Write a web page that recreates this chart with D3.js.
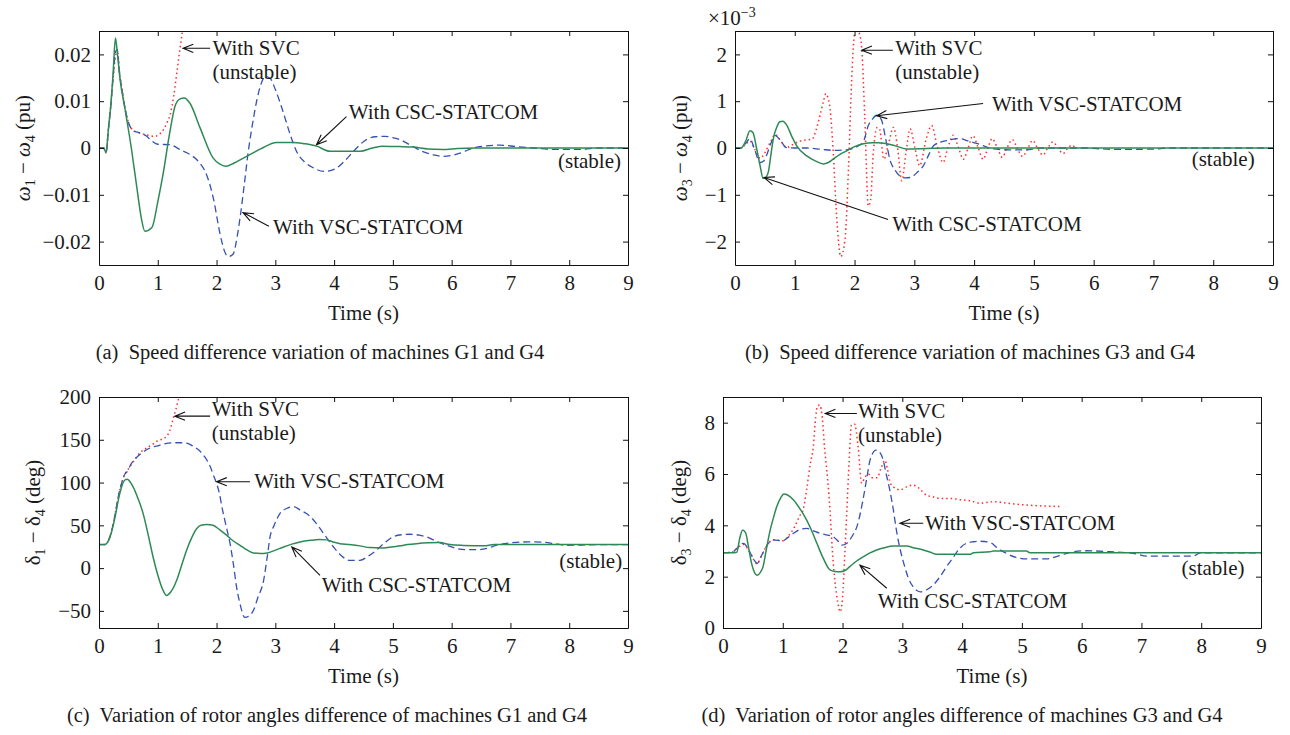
<!DOCTYPE html>
<html>
<head>
<meta charset="utf-8">
<script src="https://cdn.jsdelivr.net/npm/d3@7"></script>
<style>
body { margin: 0; background: #fff; }
text { font-family: "Liberation Serif", "Times New Roman", serif; fill: #1a1a1a; }
</style>
</head>
<body>
<svg id="fig" width="1290" height="735"></svg>
<script>
// tick values
var timeTicks = [0, 1, 2, 3, 4, 5, 6, 7, 8, 9];
var aTicks = [-0.02, -0.01, 0, 0.01, 0.02];
var bTicks = [-2, -1, 0, 1, 2];
var cTicks = [-50, 0, 50, 100, 150, 200];
var dTicks = [0, 2, 4, 6, 8];

// (a) w1 - w4 (pu), [time, value]
var aCSC = [[0,0],[0.08,0],[0.12,-0.001],[0.16,0.004],[0.2,0.009],[0.24,0.016],[0.28,0.0235],[0.31,0.0205],[0.36,0.0145],[0.44,0.0085],[0.55,0.0],[0.65,-0.009],[0.72,-0.015],[0.78,-0.0178],[0.9,-0.017],[1.0,-0.0115],[1.09,-0.0056],[1.2,0.003],[1.3,0.0092],[1.38,0.0105],[1.45,0.0107],[1.55,0.0095],[1.72,0.0043],[1.94,-0.0021],[2.05,-0.0034],[2.16,-0.0039],[2.3,-0.0032],[2.51,-0.0018],[2.75,-0.0002],[3.02,0.0012],[3.3,0.0012],[3.5,0.0009],[3.7,0.0004],[3.93,-0.0007],[4.2,-0.0007],[4.44,-0.0007],[4.65,0.0],[4.83,0.0004],[5.1,0.0003],[5.34,0.0002],[5.6,-0.0002],[5.85,-0.0003],[6.1,-0.0001],[6.4,0.0],[9,0]];
var aVSC = [[0,0],[0.08,0],[0.12,-0.001],[0.16,0.004],[0.2,0.009],[0.24,0.015],[0.28,0.0205],[0.31,0.021],[0.35,0.016],[0.39,0.0125],[0.45,0.008],[0.5,0.0055],[0.58,0.0037],[0.7,0.0032],[0.8,0.0026],[0.9,0.0015],[1.0,0.0008],[1.2,0.0007],[1.4,-0.0005],[1.55,-0.0014],[1.7,-0.003],[1.83,-0.0057],[1.95,-0.011],[2.06,-0.0184],[2.15,-0.0225],[2.2,-0.0232],[2.28,-0.0227],[2.35,-0.019],[2.4,-0.0149],[2.47,-0.008],[2.54,-0.0007],[2.61,0.005],[2.68,0.0099],[2.76,0.0138],[2.83,0.0153],[2.91,0.0149],[3.0,0.0125],[3.13,0.0078],[3.25,0.003],[3.36,-0.0007],[3.5,-0.003],[3.64,-0.0042],[3.84,-0.005],[4.04,-0.0043],[4.2,-0.0025],[4.33,-0.0007],[4.55,0.0018],[4.7,0.0024],[4.86,0.0025],[5.0,0.0022],[5.12,0.0018],[5.3,0.0006],[5.5,-0.0007],[5.7,-0.0015],[5.85,-0.0018],[6.0,-0.0016],[6.14,-0.0011],[6.43,0.0002],[6.82,0.0006],[7.1,0.0003],[7.4,0],[7.72,-0.0003],[8.2,-0.0003],[8.5,0],[9,0]];
var aSVC = [[0,0],[0.08,0],[0.12,-0.001],[0.16,0.004],[0.2,0.009],[0.24,0.015],[0.28,0.0195],[0.31,0.021],[0.35,0.016],[0.39,0.0128],[0.45,0.008],[0.5,0.0055],[0.58,0.0038],[0.7,0.0032],[0.85,0.0027],[0.95,0.0025],[1.05,0.0032],[1.1,0.004],[1.16,0.0055],[1.21,0.0071],[1.27,0.011],[1.32,0.0157],[1.37,0.0205],[1.42,0.025]];

// (b) w3 - w4 (x1e-3 pu)
var bCSC = [[0,0],[0.1,0],[0.18,0.15],[0.25,0.37],[0.3,0.33],[0.36,0.0],[0.42,-0.38],[0.47,-0.65],[0.52,-0.62],[0.56,-0.5],[0.6,-0.15],[0.64,0.19],[0.7,0.45],[0.75,0.56],[0.8,0.57],[0.86,0.5],[0.95,0.25],[1.03,0.05],[1.2,-0.17],[1.35,-0.28],[1.48,-0.34],[1.56,-0.31],[1.64,-0.24],[1.75,-0.14],[1.87,-0.06],[2.0,0.03],[2.15,0.09],[2.3,0.11],[2.4,0.11],[2.65,0.06],[2.87,-0.02],[3.2,-0.01],[3.5,0],[9,0]];
var bVSC = [[0,0],[0.1,0],[0.18,0.1],[0.25,0.2],[0.32,0.0],[0.42,-0.31],[0.48,-0.28],[0.53,-0.15],[0.6,0.1],[0.67,0.27],[0.75,0.18],[0.86,0.01],[1.0,0.0],[1.2,0.0],[1.45,-0.03],[1.64,-0.05],[1.85,-0.04],[1.98,-0.01],[2.08,0.06],[2.15,0.14],[2.23,0.48],[2.3,0.62],[2.37,0.7],[2.45,0.6],[2.52,0.2],[2.59,-0.24],[2.68,-0.48],[2.76,-0.6],[2.85,-0.64],[2.93,-0.63],[3.05,-0.52],[3.15,-0.38],[3.25,-0.12],[3.32,0.05],[3.45,0.13],[3.54,0.16],[3.65,0.19],[3.76,0.2],[3.88,0.16],[3.98,0.12],[4.04,0.1],[4.15,0.05],[4.32,-0.02],[4.6,-0.04],[4.88,-0.04],[5.1,0],[5.85,0],[6.0,-0.01],[6.38,-0.03],[7.1,-0.02],[7.2,0],[9,0]];
var bSVC = [[0,0],[0.1,0],[0.18,0.08],[0.25,0.15],[0.32,0.0],[0.42,-0.22],[0.5,-0.1],[0.6,0.15],[0.67,0.29],[0.75,0.18],[0.86,0.01],[1.0,0.1],[1.09,0.15],[1.29,0.19],[1.36,0.4],[1.42,0.69],[1.48,1.0],[1.52,1.16],[1.56,1.05],[1.59,0.84],[1.64,-0.02],[1.7,-1.46],[1.77,-2.32],[1.84,-1.96],[1.9,-0.38],[1.95,1.41],[2.0,2.45],[2.04,2.55],[2.08,2.45],[2.12,2.13],[2.17,0.69],[2.23,-1.24],[2.27,-1.1],[2.31,-0.17],[2.38,0.44],[2.42,0.4],[2.49,-0.24],[2.57,0.1],[2.65,0.44],[2.72,0.0],[2.79,-0.7],[2.86,-0.1],[2.93,0.41],[3.01,0.0],[3.09,-0.38],[3.2,0.2],[3.29,0.48],[3.38,0.05],[3.48,-0.31],[3.56,0.0],[3.65,0.27],[3.74,0.0],[3.82,-0.24],[3.9,0.0],[3.98,0.26],[4.07,0.0],[4.15,-0.24],[4.23,0.0],[4.3,0.2],[4.39,0.0],[4.47,-0.2],[4.55,0.0],[4.64,0.18],[4.72,0.0],[4.81,-0.18],[4.9,0.0],[4.98,0.16],[5.06,0.0],[5.15,-0.15],[5.23,0.0],[5.32,0.13],[5.4,0.0],[5.49,-0.12],[5.57,0.0],[5.64,0.06],[5.69,0.0]];

// (c) d1 - d4 (deg)
var cCSC = [[0,27.5],[0.1,27.5],[0.16,32],[0.22,44],[0.28,62],[0.33,80],[0.38,94],[0.44,103],[0.48,104],[0.58,95],[0.66,82],[0.75,64],[0.84,38],[0.92,13],[1.0,-8],[1.09,-26],[1.15,-32],[1.22,-28],[1.32,-14.5],[1.4,2],[1.49,21],[1.58,36],[1.66,46],[1.75,50.5],[1.83,51],[1.94,50],[2.05,45],[2.17,38.5],[2.28,32],[2.4,26.7],[2.5,22],[2.63,17.6],[2.75,17],[2.86,17.6],[3.0,21],[3.14,24.7],[3.28,28],[3.42,30.6],[3.6,32.5],[3.75,33.4],[3.87,33],[3.98,30.6],[4.1,28.5],[4.26,27.5],[4.44,26],[4.6,24],[4.84,23.5],[5.0,25],[5.12,26],[5.25,27.5],[5.4,28.6],[5.6,29.5],[5.8,29.8],[5.97,27.5],[6.2,26.5],[6.55,26],[6.72,27.5],[9,27.5]];
var cVSC = [[0,27.5],[0.1,27.5],[0.16,32],[0.22,45],[0.28,65],[0.33,84],[0.38,98],[0.44,110],[0.47,112],[0.55,122],[0.62,128],[0.7,133],[0.8,138],[0.87,140.5],[1.0,143],[1.1,145],[1.26,146.5],[1.4,146.5],[1.49,146],[1.6,142.5],[1.72,136.5],[1.8,130],[1.89,119],[1.95,108],[2.0,99],[2.05,87],[2.09,72],[2.16,50],[2.23,28.6],[2.29,3],[2.34,-22],[2.4,-42],[2.48,-57.6],[2.55,-56],[2.63,-49],[2.7,-35],[2.8,-14.5],[2.86,12],[2.91,36.5],[2.98,50],[3.08,64],[3.2,70],[3.31,72],[3.42,68],[3.6,60],[3.7,52],[3.82,40.5],[3.99,24.7],[4.1,16],[4.27,9],[4.44,9],[4.58,14],[4.72,21],[4.85,29],[5.0,36.5],[5.15,39],[5.29,39.6],[5.45,38.5],[5.57,36.5],[5.75,31],[5.91,26.7],[6.08,23],[6.25,21.6],[6.45,21.5],[6.6,23],[6.8,27.5],[7.0,29.5],[7.2,30.5],[7.39,30.6],[7.6,30],[7.73,28.7],[7.96,26.7],[8.2,27],[8.5,27.5],[9,27.5]];
var cSVC = [[0,27.5],[0.1,27.5],[0.16,32],[0.22,45],[0.28,65],[0.33,84],[0.38,98],[0.44,110],[0.5,116],[0.58,124],[0.7,135],[0.8,140],[0.9,144],[0.98,148],[1.08,151],[1.15,154],[1.2,160],[1.26,174],[1.31,186],[1.35,197],[1.37,201]];

// (d) d3 - d4 (deg)
var dCSC = [[0,2.93],[0.15,2.93],[0.23,2.95],[0.28,3.5],[0.33,3.82],[0.38,3.7],[0.43,3.1],[0.48,2.5],[0.51,2.26],[0.57,2.06],[0.62,2.15],[0.67,2.39],[0.72,3.0],[0.79,3.82],[0.85,4.35],[0.9,4.73],[0.96,5.05],[1.02,5.22],[1.08,5.18],[1.18,4.99],[1.3,4.6],[1.4,4.2],[1.5,3.7],[1.57,3.3],[1.68,2.7],[1.79,2.26],[1.87,2.2],[1.96,2.19],[2.05,2.25],[2.12,2.39],[2.23,2.6],[2.35,2.78],[2.46,2.93],[2.57,3.04],[2.7,3.13],[2.85,3.19],[3.07,3.19],[3.2,3.12],[3.35,3.04],[3.47,2.95],[3.57,2.87],[4.13,2.87],[4.19,2.93],[4.47,2.97],[4.52,3.0],[5.08,3.0],[5.13,2.93],[9,2.93]];
var dVSC = [[0,2.93],[0.15,2.95],[0.23,3.1],[0.34,3.3],[0.45,2.95],[0.52,2.65],[0.57,2.52],[0.65,2.85],[0.73,3.2],[0.84,3.43],[1.0,3.4],[1.1,3.55],[1.18,3.69],[1.3,3.85],[1.4,3.88],[1.5,3.8],[1.62,3.69],[1.75,3.62],[1.84,3.56],[1.92,3.4],[1.99,3.23],[2.06,3.28],[2.12,3.43],[2.18,3.65],[2.24,3.95],[2.3,4.5],[2.35,5.1],[2.41,5.9],[2.46,6.54],[2.56,6.93],[2.62,6.85],[2.68,6.54],[2.73,6.0],[2.79,5.38],[2.85,4.6],[2.9,3.82],[2.97,3.0],[3.04,2.39],[3.1,1.95],[3.18,1.61],[3.25,1.45],[3.3,1.41],[3.4,1.48],[3.52,1.68],[3.63,2.0],[3.74,2.39],[3.85,2.75],[3.96,3.1],[4.07,3.3],[4.19,3.36],[4.3,3.38],[4.47,3.33],[4.6,3.1],[4.74,2.91],[4.9,2.75],[5.08,2.69],[5.41,2.69],[5.6,2.8],[5.75,2.91],[6.08,3.01],[6.47,2.97],[6.86,2.91],[7.09,2.8],[7.87,2.8],[7.98,2.93],[9,2.93]];
var dSVC = [[0,2.93],[0.15,2.95],[0.23,3.1],[0.34,3.25],[0.45,2.95],[0.57,2.5],[0.65,2.85],[0.73,3.2],[0.84,3.43],[1.0,3.4],[1.1,3.6],[1.2,3.95],[1.29,4.4],[1.34,4.6],[1.4,5.4],[1.46,6.4],[1.51,7.06],[1.55,8.2],[1.58,8.65],[1.62,8.69],[1.66,8.2],[1.7,7.0],[1.75,5.8],[1.79,4.6],[1.83,3.0],[1.87,1.87],[1.92,1.0],[1.96,0.63],[2.0,1.2],[2.04,3.0],[2.07,4.47],[2.11,6.5],[2.15,7.91],[2.2,7.95],[2.26,7.06],[2.32,5.64],[2.37,5.85],[2.43,6.0],[2.5,5.85],[2.58,5.85],[2.64,6.2],[2.71,6.54],[2.75,6.2],[2.8,5.64],[2.88,5.45],[2.96,5.38],[3.07,5.5],[3.18,5.57],[3.3,5.4],[3.4,5.18],[3.5,5.12],[3.63,5.05],[3.8,5.05],[3.96,5.0],[4.15,4.95],[4.3,4.86],[4.52,4.92],[4.8,4.85],[5.08,4.79],[5.4,4.75],[5.66,4.73]];

var captions = [
    "(a)  Speed difference variation of machines G1 and G4",
    "(b)  Speed difference variation of machines G3 and G4",
    "(c)  Variation of rotor angles difference of machines G1 and G4",
    "(d)  Variation of rotor angles difference of machines G3 and G4"
];

var svcColor = "#ff2b2b";
var vscColor = "#3452b4";
var cscColor = "#2e8a55";
var fontSize = 21;

var fmtA = function(d) { return d === 0 ? "0" : d3.format(".2f")(d); };
var fmtInt = d3.format("d");

var panels = [
    { left: 99, right: 628, top: 31, bottom: 265, yDomain: [-0.025, 0.025], yTicks: aTicks, fmt: fmtA,
      svc: aSVC, vsc: aVSC, csc: aCSC, sym: "ω", italic: true, idx: ["1", "4"], unit: "(pu)",
      labelX: 30, capX: 320,
      notes: [
        { lines: ["With SVC", "(unstable)"], at: [1.93, 0.0197], tip: [1.43, 0.0213], tail: [1.89, 0.0213] },
        { lines: ["With CSC-STATCOM"], at: [4.25, 0.0063], tip: [3.70, 0.0007], tail: [4.21, 0.0067] },
        { lines: ["With VSC-STATCOM"], at: [2.96, -0.0184], tip: [2.45, -0.0138], tail: [2.89, -0.0167] },
        { lines: ["(stable)"], at: [7.81, -0.0043] }
      ] },
    { left: 735, right: 1273, top: 31, bottom: 265, yDomain: [-2.5, 2.5], yTicks: bTicks, fmt: fmtInt,
      svc: bSVC, vsc: bVSC, csc: bCSC, sym: "ω", italic: true, idx: ["3", "4"], unit: "(pu)",
      labelX: 687, capX: 970, exponent: true,
      notes: [
        { lines: ["With SVC", "(unstable)"], at: [2.68, 1.96], tip: [2.12, 2.09], tail: [2.64, 2.09] },
        { lines: ["With VSC-STATCOM"], at: [4.3, 0.8], tip: [2.37, 0.69], tail: [4.15, 0.95] },
        { lines: ["With CSC-STATCOM"], at: [2.63, -1.78], tip: [0.485, -0.63], tail: [2.56, -1.53] },
        { lines: ["(stable)"], at: [7.64, -0.39] }
      ] },
    { left: 99, right: 628, top: 397, bottom: 628, yDomain: [-70, 200], yTicks: cTicks, fmt: fmtInt,
      svc: cSVC, vsc: cVSC, csc: cCSC, sym: "δ", italic: false, idx: ["1", "4"], unit: "(deg)",
      labelX: 40, capX: 327,
      notes: [
        { lines: ["With SVC", "(unstable)"], at: [1.92, 177], tip: [1.29, 177.6], tail: [1.89, 177.6] },
        { lines: ["With VSC-STATCOM"], at: [2.64, 93.8], tip: [2.0, 101], tail: [2.57, 101] },
        { lines: ["With CSC-STATCOM"], at: [3.79, -28.2], tip: [3.28, 24.7], tail: [3.76, -8.6] },
        { lines: ["(stable)"], at: [7.83, -0.4] }
      ] },
    { left: 723, right: 1261, top: 397, bottom: 628, yDomain: [0, 9], yTicks: dTicks, fmt: fmtInt,
      svc: dSVC, vsc: dVSC, csc: dCSC, sym: "δ", italic: false, idx: ["3", "4"], unit: "(deg)",
      labelX: 686, capX: 962,
      notes: [
        { lines: ["With SVC", "(unstable)"], at: [2.26, 8.14], tip: [1.71, 8.36], tail: [2.24, 8.36] },
        { lines: ["With VSC-STATCOM"], at: [3.38, 3.82], tip: [2.96, 4.08], tail: [3.35, 4.08] },
        { lines: ["With CSC-STATCOM"], at: [2.59, 0.78], tip: [2.29, 2.45], tail: [2.74, 1.55] },
        { lines: ["(stable)"], at: [7.67, 2.06] }
      ] }
];

var svg = d3.select("#fig");

function styleAxis(sel) {
    sel.attr("font-family", null).attr("font-size", null);
    sel.selectAll("text").style("font-size", fontSize + "px").style("fill", "#1a1a1a");
    sel.selectAll("line, path").attr("stroke", "#111").attr("stroke-width", 1);
}

function arrow(g, x1, y1, x2, y2) {
    // open arrow head at (x2, y2)
    var ang = Math.atan2(y1 - y2, x1 - x2);
    var len = 11, spread = 0.38;
    var p = d3.path();
    p.moveTo(x1, y1);
    p.lineTo(x2, y2);
    p.moveTo(x2 + len * Math.cos(ang + spread), y2 + len * Math.sin(ang + spread));
    p.lineTo(x2, y2);
    p.lineTo(x2 + len * Math.cos(ang - spread), y2 + len * Math.sin(ang - spread));
    g.append("path").attr("d", p.toString())
        .attr("fill", "none").attr("stroke", "#111").attr("stroke-width", 1.1);
}

panels.forEach(function(p, i) {
    var g = svg.append("g");
    var x = d3.scaleLinear().domain([0, 9]).range([p.left, p.right]);
    var y = d3.scaleLinear().domain(p.yDomain).range([p.bottom, p.top]);

    var clipId = "clip" + i;
    g.append("clipPath").attr("id", clipId).append("rect")
        .attr("x", p.left).attr("y", p.top)
        .attr("width", p.right - p.left).attr("height", p.bottom - p.top);

    var line = d3.line()
        .x(function(d) { return x(d[0]); })
        .y(function(d) { return y(d[1]); })
        .curve(d3.curveMonotoneX);

    var lines = g.append("g").attr("clip-path", "url(#" + clipId + ")");
    lines.append("path").datum(p.svc).attr("d", line)
        .attr("fill", "none").attr("stroke", svcColor).attr("stroke-width", 1.5)
        .attr("stroke-dasharray", "1.5,3");
    lines.append("path").datum(p.vsc).attr("d", line)
        .attr("fill", "none").attr("stroke", vscColor).attr("stroke-width", 1.3)
        .attr("stroke-dasharray", "7,4");
    lines.append("path").datum(p.csc).attr("d", line)
        .attr("fill", "none").attr("stroke", cscColor).attr("stroke-width", 1.5);

    // box with inward ticks on all sides
    g.append("g").attr("transform", "translate(0," + p.bottom + ")")
        .call(d3.axisBottom(x).tickValues(timeTicks).tickSize(-5).tickSizeOuter(0).tickPadding(10).tickFormat(fmtInt))
        .call(styleAxis);
    g.append("g").attr("transform", "translate(0," + p.top + ")")
        .call(d3.axisTop(x).tickValues(timeTicks).tickSize(-5).tickSizeOuter(0).tickFormat(""))
        .call(styleAxis);
    g.append("g").attr("transform", "translate(" + p.left + ",0)")
        .call(d3.axisLeft(y).tickValues(p.yTicks).tickSize(-5).tickSizeOuter(0).tickPadding(8).tickFormat(p.fmt))
        .call(styleAxis);
    g.append("g").attr("transform", "translate(" + p.right + ",0)")
        .call(d3.axisRight(y).tickValues(p.yTicks).tickSize(-5).tickSizeOuter(0).tickFormat(""))
        .call(styleAxis);

    // y label
    var cy = (p.top + p.bottom) / 2;
    var yl = g.append("text")
        .attr("transform", "translate(" + p.labelX + "," + cy + ") rotate(-90)")
        .attr("text-anchor", "middle")
        .style("font-size", fontSize + "px");
    yl.append("tspan").text(p.sym).style("font-style", p.italic ? "italic" : "normal");
    yl.append("tspan").text(p.idx[0]).attr("dy", 5).style("font-size", "14px");
    yl.append("tspan").text(" − ").attr("dy", -5);
    yl.append("tspan").text(p.sym).style("font-style", p.italic ? "italic" : "normal");
    yl.append("tspan").text(p.idx[1]).attr("dy", 5).style("font-size", "14px");
    yl.append("tspan").text(" " + p.unit).attr("dy", -5);

    // x label
    g.append("text")
        .attr("x", (p.left + p.right) / 2).attr("y", p.bottom + 55)
        .attr("text-anchor", "middle")
        .style("font-size", fontSize + "px")
        .text("Time (s)");

    // caption
    g.append("text")
        .attr("x", p.capX).attr("y", p.bottom + 94)
        .attr("text-anchor", "middle")
        .style("font-size", "20.5px")
        .style("white-space", "pre")
        .text(captions[i]);

    if (p.exponent) {
        var ex = g.append("text").attr("x", p.left - 27).attr("y", p.top - 6)
            .style("font-size", fontSize + "px");
        ex.append("tspan").text("×10");
        ex.append("tspan").text("−3").attr("dy", -8).style("font-size", "14px");
    }

    // annotations: one text per line
    p.notes.forEach(function(n) {
        if (n.tip) arrow(g, x(n.tail[0]), y(n.tail[1]), x(n.tip[0]), y(n.tip[1]));
        var lineGap = 24;
        n.lines.forEach(function(s, k) {
            g.append("text")
                .attr("x", x(n.at[0]))
                .attr("y", y(n.at[1]) + (n.lines.length > 1 ? -1 : 0) + k * lineGap)
                .style("font-size", fontSize + "px")
                .text(s);
        });
    });
});
</script>
</body>
</html>
